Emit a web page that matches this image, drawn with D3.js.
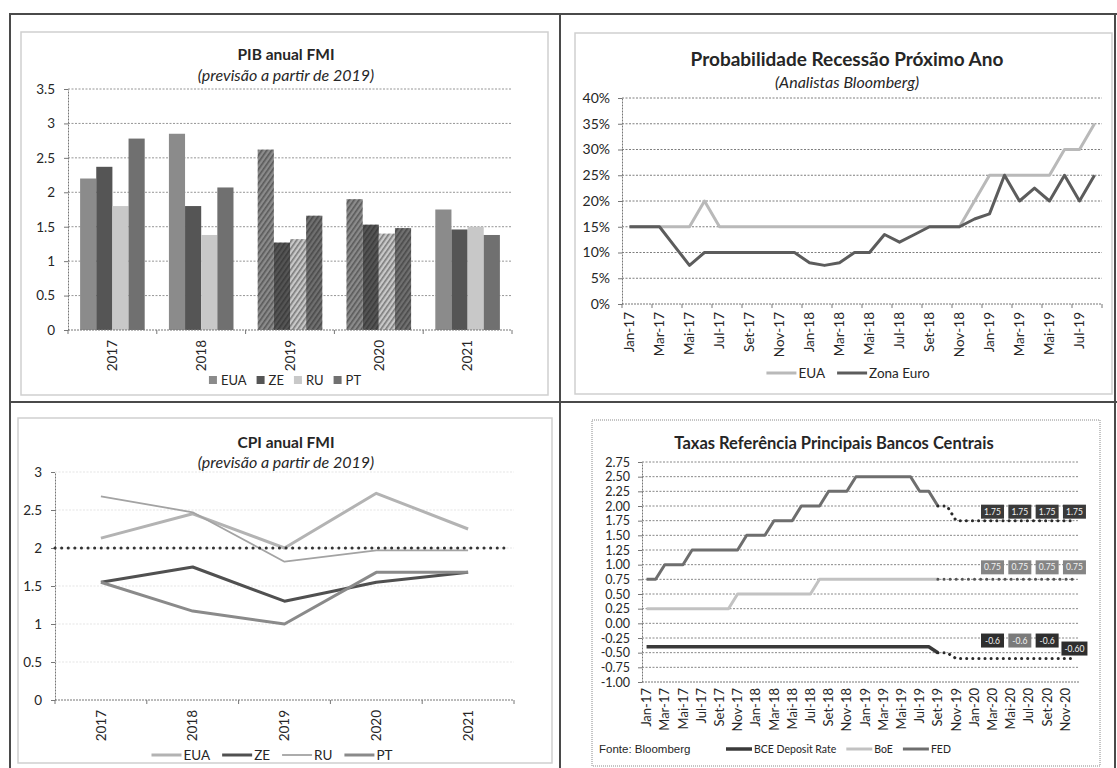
<!DOCTYPE html>
<html>
<head>
<meta charset="utf-8">
<script src="https://cdn.jsdelivr.net/npm/d3@7"></script>
<style>
    body { margin: 0; background: #fff; }
    text { font-family: Lato, "Open Sans", sans-serif; fill: #262626; }
</style>
</head>
<body>
<svg id="pagina" width="1117" height="768"></svg>
<script>
// ---- dados ----
var anos = ["2017", "2018", "2019", "2020", "2021"];

var pibEUA = [2.2, 2.85, 2.62, 1.9, 1.75];
var pibZE = [2.37, 1.8, 1.27, 1.53, 1.46];
var pibRU = [1.8, 1.38, 1.32, 1.4, 1.5];
var pibPT = [2.78, 2.07, 1.66, 1.48, 1.38];
var pibTicks = [0, 0.5, 1, 1.5, 2, 2.5, 3, 3.5];
var anosRuido = ["2019", "2020"];

var cpiEUA = [2.13, 2.45, 2.0, 2.72, 2.25];
var cpiZE = [1.55, 1.75, 1.3, 1.55, 1.68];
var cpiRU = [2.68, 2.47, 1.82, 1.97, 1.97];
var cpiPT = [1.55, 1.17, 1.0, 1.68, 1.68];
var cpiTicks = [0, 0.5, 1, 1.5, 2, 2.5, 3];
var metaInflacao = 2;

var mesesTaxas = [
    "Jan-17", "Fev-17", "Mar-17", "Abr-17", "Mai-17", "Jun-17", "Jul-17", "Ago-17", "Set-17", "Out-17", "Nov-17", "Dez-17",
    "Jan-18", "Fev-18", "Mar-18", "Abr-18", "Mai-18", "Jun-18", "Jul-18", "Ago-18", "Set-18", "Out-18", "Nov-18", "Dez-18",
    "Jan-19", "Fev-19", "Mar-19", "Abr-19", "Mai-19", "Jun-19", "Jul-19", "Ago-19", "Set-19", "Out-19", "Nov-19", "Dez-19",
    "Jan-20", "Fev-20", "Mar-20", "Abr-20", "Mai-20", "Jun-20", "Jul-20", "Ago-20", "Set-20", "Out-20", "Nov-20", "Dez-20"
];
var mesesRecessao = mesesTaxas.slice(0, 32);

var recessaoEUA = [15, 15, 15, 15, 15, 20, 15, 15, 15, 15, 15, 15,
                   15, 15, 15, 15, 15, 15, 15, 15, 15, 15, 15, 20,
                   25, 25, 25, 25, 25, 30, 30, 35];
var recessaoZE = [15, 15, 15, 11.25, 7.5, 10, 10, 10, 10, 10, 10, 10,
                  8, 7.5, 8, 10, 10, 13.5, 12, 13.5, 15, 15, 15, 16.5,
                  17.5, 25, 20, 22.5, 20, 25, 20, 25];
var recessaoTicks = [0, 5, 10, 15, 20, 25, 30, 35, 40];

// taxas: historico ate Set-19, previsao a partir dai
var inicioPrevisao = 32;
var fedReal = [0.75, 0.75, 1, 1, 1, 1.25, 1.25, 1.25, 1.25, 1.25, 1.25, 1.5,
               1.5, 1.5, 1.75, 1.75, 1.75, 2, 2, 2, 2.25, 2.25, 2.25, 2.5,
               2.5, 2.5, 2.5, 2.5, 2.5, 2.5, 2.25, 2.25, 2];
var fedPrev = [2, 2, 1.75, 1.75, 1.75, 1.75, 1.75, 1.75, 1.75, 1.75, 1.75, 1.75, 1.75, 1.75, 1.75, 1.75];
var boeReal = [0.25, 0.25, 0.25, 0.25, 0.25, 0.25, 0.25, 0.25, 0.25, 0.25, 0.5, 0.5,
               0.5, 0.5, 0.5, 0.5, 0.5, 0.5, 0.5, 0.75, 0.75, 0.75, 0.75, 0.75,
               0.75, 0.75, 0.75, 0.75, 0.75, 0.75, 0.75, 0.75, 0.75];
var boePrev = [0.75, 0.75, 0.75, 0.75, 0.75, 0.75, 0.75, 0.75, 0.75, 0.75, 0.75, 0.75, 0.75, 0.75, 0.75, 0.75];
var bceReal = [-0.4, -0.4, -0.4, -0.4, -0.4, -0.4, -0.4, -0.4, -0.4, -0.4, -0.4, -0.4,
               -0.4, -0.4, -0.4, -0.4, -0.4, -0.4, -0.4, -0.4, -0.4, -0.4, -0.4, -0.4,
               -0.4, -0.4, -0.4, -0.4, -0.4, -0.4, -0.4, -0.4, -0.5];
var bcePrev = [-0.5, -0.5, -0.6, -0.6, -0.6, -0.6, -0.6, -0.6, -0.6, -0.6, -0.6, -0.6, -0.6, -0.6, -0.6, -0.6];
var taxasTicks = [-1, -0.75, -0.5, -0.25, 0, 0.25, 0.5, 0.75, 1, 1.25, 1.5, 1.75, 2, 2.25, 2.5, 2.75];

var rotulosMeses = ["Mar-20", "Jun-20", "Set-20", "Dez-20"];
var rotulosFED = ["1.75", "1.75", "1.75", "1.75"];
var rotulosBoE = ["0.75", "0.75", "0.75", "0.75"];
var rotulosBCE = ["-0.6", "-0.6", "-0.6", "-0.60"];

// ---- desenho ----
var svg = d3.select("#pagina");
svg.append("rect").attr("width", 1117).attr("height", 768).attr("fill", "#fff");

// textura para as barras de previsao (efeito de digitalizacao)
var padrao = svg.append("defs").append("pattern")
    .attr("id", "ruido").attr("width", 4).attr("height", 4)
    .attr("patternUnits", "userSpaceOnUse").attr("patternTransform", "rotate(35)");
padrao.append("rect").attr("width", 1.6).attr("height", 4).attr("fill", "#1c1c1c").attr("opacity", 0.45);

function moldura() {
    var linhas = [[9, 14, 1117, 14], [10, 14, 10, 768], [560, 14, 560, 768], [9, 402, 1117, 402], [1115, 14, 1115, 768]];
    svg.selectAll(null).data(linhas).enter().append("line")
        .attr("x1", d => d[0]).attr("y1", d => d[1]).attr("x2", d => d[2]).attr("y2", d => d[3])
        .attr("stroke", "#4a4a4a").attr("stroke-width", 2);
    var caixas = [[21, 32, 527, 363], [575, 33, 537, 361], [18, 418, 534, 345]];
    svg.selectAll(null).data(caixas).enter().append("rect")
        .attr("x", d => d[0]).attr("y", d => d[1]).attr("width", d => d[2]).attr("height", d => d[3])
        .attr("fill", "none").attr("stroke", "#cfcfcf").attr("stroke-width", 1.5);
    svg.append("rect").attr("x", 592).attr("y", 420).attr("width", 508).attr("height", 346)
        .attr("fill", "none").attr("stroke", "#8a8a8a").attr("stroke-dasharray", "1,1");
}

function titulo(x, y, texto, tamanho, estilo) {
    var t = svg.append("text").attr("x", x).attr("y", y).attr("text-anchor", "middle")
        .style("font-size", tamanho + "px").text(texto);
    if (estilo == "bold") t.style("font-weight", "bold");
    if (estilo == "italic") t.style("font-style", "italic");
}

function grelha(y, ticks, x0, x1, cor) {
    svg.append("g").selectAll("line").data(ticks).enter().append("line")
        .attr("x1", x0).attr("x2", x1)
        .attr("y1", d => y(d)).attr("y2", d => y(d))
        .attr("stroke", cor).attr("stroke-width", 0.9).attr("stroke-dasharray", "2,1.5");
}

function eixoY(x, y, ticks, formato, padding, fonte) {
    svg.append("g")
        .attr("transform", "translate(" + x + ",0)")
        .call(d3.axisLeft(y).tickValues(ticks).tickFormat(formato).tickSize(4).tickSizeOuter(0).tickPadding(padding))
        .call(g => g.select(".domain").attr("stroke", "#777").attr("stroke-dasharray", "2,1"))
        .call(g => g.selectAll(".tick line").attr("stroke", "#777"))
        .call(g => g.selectAll("text").style("font-size", fonte + "px").style("font-family", "Lato, 'Open Sans', sans-serif").attr("fill", "#262626"));
}

function eixoX(x0, x1, y0, marcas) {
    svg.append("line").attr("x1", x0).attr("x2", x1).attr("y1", y0).attr("y2", y0)
        .attr("stroke", "#777").attr("stroke-dasharray", "2,1");
    svg.append("g").selectAll("line").data(marcas).enter().append("line")
        .attr("x1", d => d).attr("x2", d => d).attr("y1", y0).attr("y2", y0 + 4)
        .attr("stroke", "#777");
}

function rotulosX(nomes, x, y0, fonte) {
    svg.append("g").selectAll("text").data(nomes).enter().append("text")
        .attr("transform", d => "translate(" + x(d) + "," + y0 + ") rotate(-90)")
        .attr("text-anchor", "end")
        .attr("dy", "0.35em")
        .style("font-size", fonte + "px")
        .text(d => d);
}

function legenda(itens, cx, cy, opc) {
    var grupo = svg.append("g");
    var pos = 0;
    itens.forEach(function (it) {
        if (opc.tipo == "quadrado") {
            grupo.append("rect").attr("x", pos).attr("y", cy - 4).attr("width", 8).attr("height", 8).attr("fill", it.cor);
        } else {
            grupo.append("line").attr("x1", pos).attr("x2", pos + opc.marca).attr("y1", cy).attr("y2", cy)
                .attr("stroke", it.cor).attr("stroke-width", it.largura || 3);
        }
        pos += opc.marca + opc.espaco;
        var t = grupo.append("text").attr("x", pos).attr("y", cy).attr("dy", "0.35em")
            .style("font-size", opc.fonte + "px").text(it.nome);
        pos += t.node().getComputedTextLength() + opc.entre;
    });
    pos -= opc.entre;
    var inicio = opc.esquerda != null ? opc.esquerda : cx - pos / 2;
    grupo.attr("transform", "translate(" + inicio + ",0)");
}

// ---------- PIB ----------
function desenhaPib() {
    var coresPib = { EUA: "#8b8b8b", ZE: "#555555", RU: "#c8c8c8", PT: "#707070" };
    var series = [
        { nome: "EUA", valores: pibEUA },
        { nome: "ZE", valores: pibZE },
        { nome: "RU", valores: pibRU },
        { nome: "PT", valores: pibPT }
    ];
    var x = d3.scaleBand().domain(anos).range([68, 512]).paddingInner(1.5 / 5.5).paddingOuter(0.75 / 5.5);
    var xs = d3.scaleBand().domain(series.map(s => s.nome)).range([0, x.bandwidth()]);
    var y = d3.scaleLinear().domain([0, 3.5]).range([330, 89]);

    grelha(y, pibTicks.slice(1), 68, 512, "#8a8a8a");

    var barras = [];
    series.forEach(function (s) {
        s.valores.forEach(function (v, i) {
            barras.push({ ano: anos[i], v: v, nome: s.nome });
        });
    });
    svg.append("g").selectAll("rect").data(barras).enter().append("rect")
        .attr("x", d => x(d.ano) + xs(d.nome))
        .attr("width", xs.bandwidth())
        .attr("y", d => y(d.v))
        .attr("height", d => y(0) - y(d.v))
        .attr("fill", d => coresPib[d.nome]);
    svg.append("g").selectAll("rect").data(barras.filter(d => anosRuido.indexOf(d.ano) >= 0)).enter().append("rect")
        .attr("x", d => x(d.ano) + xs(d.nome))
        .attr("width", xs.bandwidth())
        .attr("y", d => y(d.v))
        .attr("height", d => y(0) - y(d.v))
        .attr("fill", "url(#ruido)");

    var limites = anos.map(a => x(a) - x.step() * x.paddingInner() / 2).concat([512]);
    eixoX(68, 512, 330, limites);
    eixoY(68, y, pibTicks, d => String(d), 9, 13.5);
    rotulosX(anos, d => x(d) + x.bandwidth() / 2, 340, 13.5);

    titulo(286, 60, "PIB anual FMI", 15.5, "bold");
    titulo(286, 81, "(previsão a partir de 2019)", 16, "italic");
    legenda(series.map(s => ({ nome: s.nome, cor: coresPib[s.nome] })), 285, 380,
        { tipo: "quadrado", marca: 8, espaco: 4, entre: 10, fonte: 13 });
}

// ---------- Probabilidade recessao ----------
function desenhaRecessao() {
    var x = d3.scalePoint().domain(mesesRecessao).range([622, 1102]).padding(0.5);
    var y = d3.scaleLinear().domain([0, 40]).range([304, 98]);

    grelha(y, recessaoTicks.slice(1), 622, 1102, "#6f6f6f");
    var passo = x.step();
    var marcas = mesesRecessao.filter((m, i) => i % 2 == 0).map(m => x(m) - passo / 2).concat([1102]);
    eixoX(622, 1102, 304, marcas);
    eixoY(622, y, recessaoTicks, d => d + "%", 8, 14);
    rotulosX(mesesRecessao.filter((m, i) => i % 2 == 0), x, 312, 13.5);

    var linha = d3.line().x((d, i) => x(mesesRecessao[i])).y(d => y(d));
    svg.append("path").attr("d", linha(recessaoEUA)).attr("fill", "none")
        .attr("stroke", "#b9b9b9").attr("stroke-width", 3).attr("stroke-linejoin", "round");
    svg.append("path").attr("d", linha(recessaoZE)).attr("fill", "none")
        .attr("stroke", "#5c5c5c").attr("stroke-width", 3).attr("stroke-linejoin", "round");

    titulo(847, 66, "Probabilidade Recessão Próximo Ano", 19, "bold");
    titulo(847, 88, "(Analistas Bloomberg)", 16, "italic");
    legenda([{ nome: "EUA", cor: "#b9b9b9" }, { nome: "Zona Euro", cor: "#5c5c5c" }], 848, 373,
        { tipo: "linha", marca: 30, espaco: 2, entre: 12, fonte: 13.5 });
}

// ---------- CPI ----------
function desenhaCpi() {
    var x = d3.scalePoint().domain(anos).range([55, 514]).padding(0.5);
    var y = d3.scaleLinear().domain([0, 3]).range([700, 472]);

    grelha(y, cpiTicks.slice(1), 55, 514, "#e2e2e2");
    var passo = x.step();
    eixoX(55, 514, 700, anos.map(a => x(a) - passo / 2).concat([514]));
    eixoY(55, y, cpiTicks, d => String(d), 9, 13.5);
    rotulosX(anos, x, 710, 13.5);

    var series = [
        { nome: "EUA", valores: cpiEUA, cor: "#b3b3b3", largura: 3 },
        { nome: "ZE", valores: cpiZE, cor: "#505050", largura: 3 },
        { nome: "RU", valores: cpiRU, cor: "#a3a3a3", largura: 1.8 },
        { nome: "PT", valores: cpiPT, cor: "#8a8a8a", largura: 3 }
    ];
    var linha = d3.line().x((d, i) => x(anos[i])).y(d => y(d));
    svg.append("g").selectAll("path").data(series).enter().append("path")
        .attr("d", d => linha(d.valores)).attr("fill", "none")
        .attr("stroke", d => d.cor).attr("stroke-width", d => d.largura).attr("stroke-linejoin", "round");

    svg.append("line").attr("x1", 55).attr("x2", 510)
        .attr("y1", y(metaInflacao)).attr("y2", y(metaInflacao))
        .attr("stroke", "#333").attr("stroke-width", 3).attr("stroke-linecap", "round")
        .attr("stroke-dasharray", "0.1,6.5");

    titulo(286, 448, "CPI anual FMI", 15.5, "bold");
    titulo(286, 468, "(previsão a partir de 2019)", 16, "italic");
    legenda(series.map(s => ({ nome: s.nome, cor: s.cor, largura: s.largura })), 272, 755,
        { tipo: "linha", marca: 30, espaco: 2, entre: 12, fonte: 13.5 });
}

// ---------- Taxas bancos centrais ----------
function desenhaTaxas() {
    var x = d3.scalePoint().domain(mesesTaxas).range([642, 1079]).padding(0.5);
    var y = d3.scaleLinear().domain([-1, 2.75]).range([682, 462]);

    grelha(y, taxasTicks.slice(1), 642, 1079, "#7a7a7a");
    eixoX(642, 1079, 682, []);
    eixoY(642, y, taxasTicks, d => d.toFixed(2), 8, 12.5);
    rotulosX(mesesTaxas.filter((m, i) => i % 2 == 0), x, 688, 13);

    var linhaReal = d3.line().x((d, i) => x(mesesTaxas[i])).y(d => y(d));
    var linhaPrev = d3.line().x((d, i) => x(mesesTaxas[inicioPrevisao + i])).y(d => y(d));
    var series = [
        { real: boeReal, prev: boePrev, cor: "#c2c2c2", ponto: "#555", largura: 3 },
        { real: bceReal, prev: bcePrev, cor: "#3a3a3a", ponto: "#2a2a2a", largura: 3.5 },
        { real: fedReal, prev: fedPrev, cor: "#6e6e6e", ponto: "#2a2a2a", largura: 3 }
    ];
    series.forEach(function (s) {
        svg.append("path").attr("d", linhaReal(s.real)).attr("fill", "none")
            .attr("stroke", s.cor).attr("stroke-width", s.largura).attr("stroke-linejoin", "round");
        svg.append("path").attr("d", linhaPrev(s.prev)).attr("fill", "none")
            .attr("stroke", s.ponto).attr("stroke-width", 3).attr("stroke-linecap", "round")
            .attr("stroke-dasharray", "0.1,6");
    });

    // rotulos de previsao
    var rotulos = [
        { textos: rotulosFED, prev: fedPrev, fundo: ["#3a3a3a", "#3a3a3a", "#3a3a3a", "#3a3a3a"], sobe: 9 },
        { textos: rotulosBoE, prev: boePrev, fundo: ["#858585", "#858585", "#858585", "#858585"], sobe: 12 },
        { textos: rotulosBCE, prev: bcePrev, fundo: ["#2e2e2e", "#7a7a7a", "#2e2e2e", "#2e2e2e"], sobe: 18 }
    ];
    rotulos.forEach(function (r) {
        rotulosMeses.forEach(function (m, i) {
            var idx = mesesTaxas.indexOf(m) - inicioPrevisao;
            var cx = x(m);
            var cy = y(r.prev[idx]) - (i == 3 && r.sobe == 18 ? 10 : r.sobe);
            var w = r.textos[i].length > 4 ? 26 : 23;
            svg.append("rect").attr("x", cx - w / 2).attr("y", cy - 7).attr("width", w).attr("height", 14)
                .attr("fill", r.fundo[i]);
            svg.append("text").attr("x", cx).attr("y", cy).attr("dy", "0.35em").attr("text-anchor", "middle")
                .style("font-size", "8.5px").style("fill", "#f2f2f2").text(r.textos[i]);
        });
    });

    titulo(834, 449, "Taxas Referência Principais Bancos Centrais", 16.5, "bold");
    svg.append("text").attr("x", 599).attr("y", 749).attr("dy", "0.35em")
        .style("font-family", "'Liberation Sans', Arial, sans-serif").style("font-size", "11.5px")
        .text("Fonte: Bloomberg");
    legenda([{ nome: "BCE Deposit Rate", cor: "#3a3a3a", largura: 3.5 },
             { nome: "BoE", cor: "#c2c2c2" },
             { nome: "FED", cor: "#6e6e6e" }], 0, 749,
        { tipo: "linha", marca: 26, espaco: 2, entre: 10, fonte: 10.5, esquerda: 726 });
}

moldura();
desenhaPib();
desenhaRecessao();
desenhaCpi();
desenhaTaxas();
</script>
</body>
</html>
